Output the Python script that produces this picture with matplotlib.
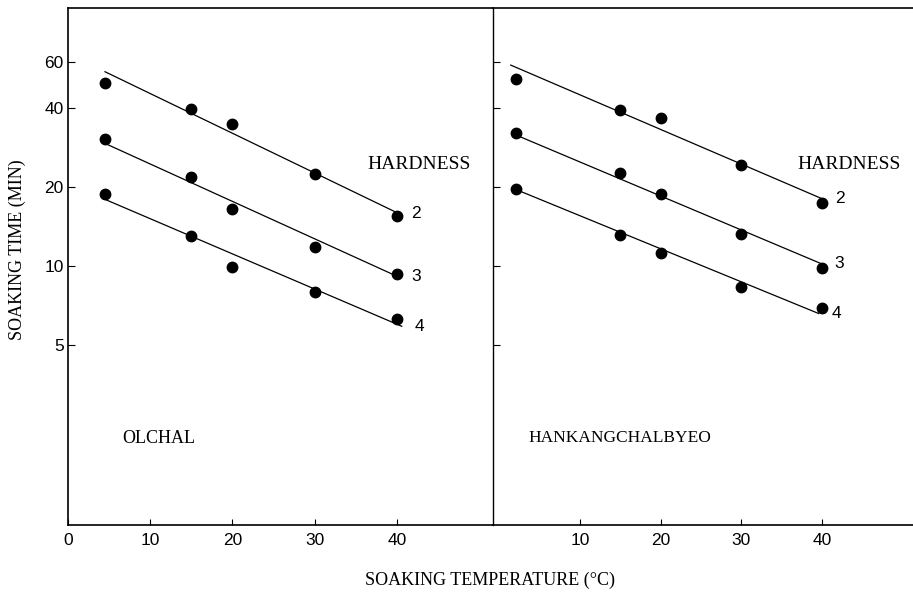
import numpy as np
import matplotlib.pyplot as plt

# soaking temperature (C) for each cultivar
temp_olchal = [4.5, 15, 20, 30, 40]
temp_hankang = [2, 15, 20, 30, 40]

# soaking time (min) to reach hardness 2, 3, 4
olchal_h2 = [49.8, 39.7, 34.8, 22.4, 15.6]
olchal_h3 = [30.7, 21.9, 16.6, 11.8, 9.3]
olchal_h4 = [18.8, 13.0, 9.9, 8.0, 6.3]

hankang_h2 = [51.7, 39.4, 36.6, 24.4, 17.4]
hankang_h3 = [32.1, 22.7, 18.8, 13.3, 9.85]
hankang_h4 = [19.7, 13.2, 11.2, 8.3, 6.9]

# fitted regression lines: (t_start, t_end), (time_start, time_end)
olchal_fit_t = [(4.5, 40.2), (4.3, 40.2), (4.3, 40.6)]
olchal_fit_y = [(55.2, 15.9), (29.6, 9.1), (18.1, 5.9)]
hankang_fit_t = [(1.4, 40.0), (1.9, 40.0), (1.9, 39.6)]
hankang_fit_y = [(58.5, 18.1), (31.8, 10.2), (19.7, 6.6)]

hardness = ['2', '3', '4']
yticks = [5, 10, 20, 40, 60]

serif = 'Liberation Serif'
sans = 'Liberation Sans'

fig = plt.figure(figsize=(9.13, 5.94), dpi=100)
W, H = 913, 594
ax1 = fig.add_axes([68 / W, (H - 525) / H, (493 - 68) / W, 517 / H])
ax2 = fig.add_axes([493 / W, (H - 525) / H, (913 - 493) / W, 517 / H])
ax2.patch.set_visible(False)

panels = [
    (ax1, temp_olchal, [olchal_h2, olchal_h3, olchal_h4], olchal_fit_t, olchal_fit_y,
     'OLCHAL', 13, 6.6, 36.4, (0, 51.7), [0, 10, 20, 30, 40]),
    (ax2, temp_hankang, [hankang_h2, hankang_h3, hankang_h4], hankang_fit_t, hankang_fit_y,
     'HANKANGCHALBYEO', 12.5, 3.6, 36.9, (-0.8, 51.3), [10, 20, 30, 40]),
]

for ax, temps, series, fit_t, fit_y, name, name_fs, name_x, hard_x, xlim, xt in panels:
    ax.set_yscale('log')
    ax.set_ylim(1.03, 96.6)
    ax.set_xlim(*xlim)
    for vals, ft, fy, lab in zip(series, fit_t, fit_y, hardness):
        ax.plot(temps, vals, 'o', color='black', ms=7.5, mec='black')
        ax.plot(ft, fy, '-', color='black', lw=0.9)
        ax.text(ft[1] + 1.6, fy[1], lab, fontsize=12.5, family=sans,
                va='center', ha='left')
    ax.text(hard_x, 24.5, 'HARDNESS', fontsize=14, family=serif,
            va='center', ha='left')
    ax.text(name_x, 2.21, name, fontsize=name_fs, family=serif,
            va='center', ha='left')

    ax.set_xticks(xt)
    ax.set_xticklabels([str(v) for v in xt], family=sans, fontsize=12.5)
    ax.set_yticks(yticks)
    ax.yaxis.set_minor_locator(plt.NullLocator())
    ax.tick_params(axis='x', direction='in', length=4, width=0.8, pad=6)
    ax.tick_params(axis='y', direction='in', length=5, width=0.8, pad=3)
    for s in ax.spines.values():
        s.set_linewidth(1.2)
        s.set_color('black')

ax1.set_yticklabels([str(v) for v in yticks], family=sans, fontsize=12.5)
ax2.set_yticklabels([])
ax2.spines['right'].set_visible(False)
ax1.spines['right'].set_visible(False)
ax2.spines['left'].set_linewidth(1.0)

fig.text(17 / W, 1 - 250 / H, 'SOAKING TIME (MIN)', rotation=90, family=serif,
         fontsize=13, ha='center', va='center')
fig.text(490 / W, 1 - 580 / H, 'SOAKING TEMPERATURE (\u00b0C)', family=serif,
         fontsize=13, ha='center', va='center')

fig.savefig('out.png', dpi=100, facecolor='white')
